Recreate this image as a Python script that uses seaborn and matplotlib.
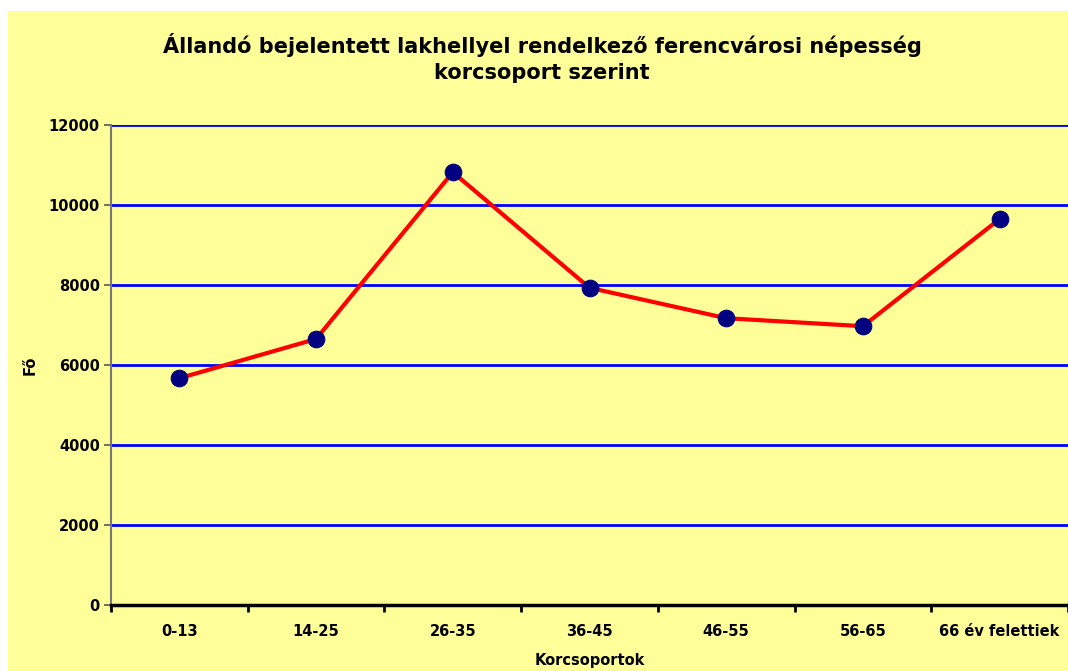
import matplotlib
matplotlib.use("Agg")
import matplotlib.pyplot as plt
import seaborn as sns
import pandas as pd
from matplotlib.patches import Rectangle
from matplotlib.ticker import FixedLocator

# Data
korcsoportok = ["0-13", "14-25", "26-35", "36-45", "46-55", "56-65", "66 év felettiek"]
nepesseg = [5670, 6650, 10820, 7930, 7170, 6970, 9650]
y_ticks = [0, 2000, 4000, 6000, 8000, 10000, 12000]

df = pd.DataFrame({"Korcsoport": korcsoportok, "Fo": nepesseg})

sns.set_style("white")
plt.rcParams["font.family"] = ["DejaVu Sans"]
plt.rcParams["text.color"] = "black"
plt.rcParams["axes.labelcolor"] = "black"
plt.rcParams["xtick.color"] = "black"
plt.rcParams["ytick.color"] = "black"

bg = "#FFFF99"
fig = plt.figure(figsize=(10.68, 6.71), dpi=100)
fig.patch.set_facecolor("white")
fig.patches.append(Rectangle((8 / 1068, 0), 1, 1 - 11 / 671,
                             transform=fig.transFigure, facecolor=bg,
                             edgecolor="none", zorder=-10))

ax = fig.add_axes([111 / 1068, 1 - 605 / 671, 1 - 111 / 1068, 480 / 671])
ax.set_facecolor(bg)

sns.lineplot(data=df, x="Korcsoport", y="Fo", ax=ax, sort=False,
             color="#FF0000", linewidth=3, marker="o", markersize=12,
             markerfacecolor="#000080", markeredgecolor="#000080", zorder=3)

ax.set_ylim(0, 12000)
ax.set_xlim(-0.5, len(korcsoportok) - 0.5)
ax.set_yticks(y_ticks)
ax.set_yticklabels([str(t) for t in y_ticks], fontsize=10.5, fontweight="bold")
ax.set_xticks(range(len(korcsoportok)))
ax.set_xticklabels(korcsoportok, fontsize=10.5, fontweight="bold")
ax.xaxis.set_minor_locator(FixedLocator([i - 0.5 for i in range(len(korcsoportok) + 1)]))
ax.tick_params(axis="x", which="major", bottom=True, length=0, pad=14)
ax.tick_params(axis="x", which="minor", bottom=True, length=5, width=2,
               direction="out", color="black")
ax.tick_params(axis="y", which="major", left=True, length=5, width=1.2,
               color="#555555", direction="out", pad=3)

for t in y_ticks[1:]:
    ax.axhline(t, color="#0000FF", linewidth=2, zorder=1)

for s in ["top", "right"]:
    ax.spines[s].set_visible(False)
ax.spines["left"].set_color("#777777")
ax.spines["left"].set_linewidth(1.5)
ax.spines["bottom"].set_color("black")
ax.spines["bottom"].set_linewidth(2.5)

ax.set_xlabel("Korcsoportok", fontsize=10.5, fontweight="bold", labelpad=10)
ax.set_ylabel("Fő", fontsize=10.5, fontweight="bold", labelpad=8)

fig.text(0.5 + 8 / 1068, 1 - 58 / 671,
         "Állandó bejelentett lakhellyel rendelkező ferencvárosi népesség\nkorcsoport szerint",
         ha="center", va="center", fontsize=15, fontweight="bold", linespacing=1.35)

fig.savefig("out.png", dpi=100, facecolor="white")
